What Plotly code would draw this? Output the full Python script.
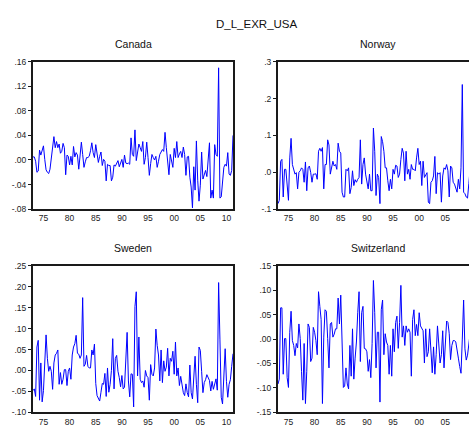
import plotly.graph_objects as go

# ---------------- data (quarterly, first observation 1973Q1) ----------------
START_YEAR = 1973

canada = [0.005, 0.005, -0.002, -0.02, -0.018, 0.016, 0.008, 0.015, 0.023, 0.001,
          -0.016, -0.02, -0.022, -0.015, 0.004, 0.025, 0.038, 0.02, 0.03, 0.02,
          0.026, 0.011, 0.014, 0.027, 0.02, -0.024, 0.008, 0.006, -0.008, 0.006,
          -0.008, 0.022, 0.005, 0.012, 0.008, -0.015, 0.014, 0.029, 0.009, -0.012,
          -0.003, 0.004, 0.004, 0.006, 0.015, 0.028, 0.012, 0.004, 0.025, 0.012,
          -0.004, 0.006, 0.013, -0.009, 0.001, -0.002, -0.034, -0.007, -0.009, -0.009,
          -0.034, -0.028, -0.008, -0.01, -0.006, -0.001, -0.011, -0.004, 0.001, -0.012,
          0.008, -0.005, -0.006, -0.005, -0.007, 0.036, 0.009, 0.006, 0.049, -0.001,
          0.012, 0.026, 0.02, 0.014, 0.03, -0.007, 0.004, 0.029, 0.004, -0.025,
          -0.006, 0.009, 0.004, 0.0, 0.006, -0.012, -0.002, 0.009, 0.013, 0.017,
          0.014, 0.045, 0.02, -0.002, -0.024, 0.009, -0.002, -0.012, 0.019, 0.004,
          0.03, 0.004, 0.01, 0.014, 0.004, 0.021, 0.009, -0.025, 0.005, 0.006,
          -0.028, -0.044, -0.078, -0.011, -0.049, 0.031, -0.033, -0.067, -0.041, 0.013,
          -0.031, -0.023, -0.017, -0.027, 0.004, 0.028, -0.062, -0.049, -0.062, 0.025,
          0.009, 0.006, 0.15, -0.062, -0.06, -0.033, -0.012, -0.007, -0.01, 0.012,
          -0.023, -0.025, -0.017, 0.04]

norway = [-0.085, -0.076, 0.03, 0.035, -0.067, 0.008, 0.008, -0.027, -0.076, 0.039,
          0.092, 0.021, 0.004, -0.005, -0.001, -0.045, 0.0, 0.004, 0.012, 0.008,
          -0.027, 0.028, -0.05, 0.012, 0.017, 0.0, -0.027, -0.005, -0.005, -0.004,
          -0.019, 0.057, 0.065, 0.057, 0.067, -0.045, 0.021, 0.021, 0.088, 0.074,
          -0.005, 0.012, 0.03, 0.017, 0.021, 0.008, 0.079, 0.057, 0.052, -0.054,
          -0.067, -0.067, 0.008, 0.004, 0.012, -0.058, -0.041, 0.004, -0.036, -0.02,
          -0.027, -0.019, -0.014, 0.088, -0.032, 0.021, 0.039, -0.005, -0.032, -0.045,
          -0.005, -0.05, -0.05, 0.12, 0.057, -0.063, -0.005, -0.014, -0.085, 0.097,
          0.083, 0.057, 0.012, 0.012, -0.023, -0.05, -0.019, -0.045, 0.008, -0.005,
          0.019, 0.017, -0.014, -0.005, 0.035, 0.065, 0.052, -0.023, 0.057, -0.005,
          0.008, -0.019, 0.021, 0.008, 0.008, 0.004, 0.039, 0.065, 0.021, 0.03,
          -0.036, 0.03, -0.014, -0.005, -0.001, -0.081, -0.085, -0.027, -0.023, -0.01,
          0.043, -0.058, -0.001, -0.005, -0.001, -0.081, -0.01, 0.012, 0.008, 0.021,
          0.004, -0.067, 0.017, 0.012, -0.027, -0.032, -0.045, -0.054, -0.019, -0.045,
          0.012, 0.238, -0.054, -0.058, -0.067, -0.07, -0.03, 0.01, 0.02, -0.01,
          0.03, -0.02, 0.01]

sweden = [-0.048, -0.044, -0.062, 0.056, 0.072, -0.071, 0.018, -0.075, -0.048, 0.008,
          0.085, 0.029, -0.002, 0.01, -0.002, -0.045, 0.018, 0.037, 0.041, 0.049,
          -0.033, -0.005, -0.033, -0.021, 0.002, 0.002, -0.036, -0.002, 0.006, -0.021,
          0.037, 0.056, 0.064, 0.084, 0.041, 0.039, 0.029, 0.037, 0.174, 0.01,
          0.015, 0.036, 0.01, 0.006, 0.006, 0.049, 0.037, 0.063, -0.031, -0.06,
          -0.068, -0.073, -0.052, -0.031, -0.033, -0.007, -0.062, 0.006, -0.052, -0.033,
          0.0, 0.076, -0.044, 0.029, 0.036, -0.002, -0.017, -0.039, -0.012, -0.044,
          -0.04, 0.022, 0.091, -0.025, -0.063, -0.008, -0.009, -0.087, 0.153, 0.188,
          -0.013, 0.08, -0.021, -0.029, -0.025, -0.04, 0.0, -0.013, -0.017, -0.071,
          0.014, -0.009, -0.013, 0.006, 0.099, 0.06, 0.037, -0.025, 0.049, -0.029,
          0.023, -0.002, 0.008, 0.053, -0.013, 0.029, 0.022, 0.046, -0.009, 0.068,
          -0.013, 0.006, -0.036, -0.014, -0.041, -0.053, -0.06, -0.032, -0.053, -0.063,
          0.013, -0.053, -0.068, -0.026, 0.034, -0.033, -0.077, 0.056, 0.048, -0.002,
          -0.053, -0.029, -0.022, -0.01, -0.018, -0.024, -0.049, -0.026, -0.045, -0.03,
          -0.02, -0.047, 0.21, 0.075, -0.064, -0.08, -0.022, 0.052, -0.026, -0.064,
          -0.033, -0.022, 0.01, 0.04]

switzerland = [-0.092, -0.082, 0.064, 0.064, -0.072, 0.001, 0.001, -0.079, -0.099, 0.014,
               0.057, -0.003, -0.013, -0.034, -0.009, -0.018, 0.031, 0.001, -0.066, -0.125,
               -0.009, -0.132, -0.066, 0.031, 0.024, -0.046, -0.039, 0.024, 0.014, -0.003,
               -0.032, 0.097, 0.067, 0.04, -0.132, 0.004, 0.06, 0.057, 0.001, -0.059,
               0.031, 0.034, 0.004, 0.01, 0.021, 0.021, 0.084, 0.031, 0.09, -0.039,
               -0.099, -0.096, -0.059, -0.092, -0.102, -0.013, -0.076, 0.021, -0.082, -0.039,
               -0.006, 0.054, 0.097, -0.046, 0.054, 0.067, -0.019, -0.02, -0.026, -0.066,
               -0.042, -0.079, -0.009, 0.12, 0.054, -0.059, 0.014, 0.014, -0.129, 0.06,
               0.08, -0.032, 0.011, -0.006, -0.013, -0.072, -0.013, -0.076, 0.021, -0.026,
               0.034, 0.047, -0.019, 0.034, 0.11, 0.004, 0.027, -0.013, 0.027, 0.014,
               0.021, 0.014, -0.076, 0.04, 0.06, 0.007, 0.03, 0.007, 0.054, 0.027,
               0.021, 0.017, -0.049, 0.021, -0.036, -0.026, 0.021, -0.039, -0.069, -0.016,
               -0.072, -0.032, 0.027, -0.01, -0.049, -0.032, 0.017, -0.059, -0.019, 0.037,
               0.034, 0.011, -0.042, -0.013, -0.003, -0.003, -0.006, -0.019, -0.039, -0.056,
               -0.07, 0.0, 0.08, -0.02, -0.043, -0.033, -0.01, 0.02, 0.035, -0.02,
               0.01, -0.03, 0.02, 0.0]

year_ticks = [1975, 1980, 1985, 1990, 1995, 2000, 2005, 2010]
year_labels = ["75", "80", "85", "90", "95", "00", "05", "10"]

canada_ticks = [-0.08, -0.04, 0.0, 0.04, 0.08, 0.12, 0.16]
canada_labels = ["-.08", "-.04", ".00", ".04", ".08", ".12", ".16"]
norway_ticks = [-0.1, 0.0, 0.1, 0.2, 0.3]
norway_labels = ["-.1", ".0", ".1", ".2", ".3"]
sweden_ticks = [-0.10, -0.05, 0.0, 0.05, 0.10, 0.15, 0.20, 0.25]
sweden_labels = ["-.10", "-.05", ".00", ".05", ".10", ".15", ".20", ".25"]
swiss_ticks = [-0.15, -0.10, -0.05, 0.0, 0.05, 0.10, 0.15]
swiss_labels = ["-.15", "-.10", "-.05", ".00", ".05", ".10", ".15"]

# ---------------- figure ----------------
W, H = 469, 432
FONT = "Liberation Sans, Arial, sans-serif"
FRAME = "#1a1a1a"


def px_x(x):
    return x / W


def px_y(y):
    return 1 - y / H


def qdates(vals):
    return [START_YEAR + i / 4 for i in range(len(vals))]


panels = [
    # name, values, y-range, ticks, labels, x px, y px (top,bottom), full frame
    ("Canada", canada, [-0.08, 0.16], canada_ticks, canada_labels, (33, 233), (58, 209), True),
    ("Norway", norway, [-0.1, 0.3], norway_ticks, norway_labels, (278, 469), (58, 209), False),
    ("Sweden", sweden, [-0.10, 0.25], sweden_ticks, sweden_labels, (33, 233), (267, 417), True),
    ("Switzerland", switzerland, [-0.15, 0.15], swiss_ticks, swiss_labels, (278, 469), (267, 417), False),
]

PX_PER_YEAR = 200 / 38.25

fig = go.Figure()
annotations = [dict(text="D_L_EXR_USA", x=px_x(257), y=px_y(19), xref="paper", yref="paper",
                    showarrow=False, font=dict(family=FONT, size=11.5, color="#111"),
                    xanchor="center", yanchor="middle")]

for k, (name, vals, yr, yt, yl, (x0, x1), (yt0, yb0), full) in enumerate(panels):
    idx = "" if k == 0 else str(k + 1)
    fig.add_trace(go.Scatter(x=qdates(vals), y=vals, mode="lines",
                             line=dict(color="#0000ff", width=1),
                             xaxis="x" + idx, yaxis="y" + idx, showlegend=False,
                             hoverinfo="skip"))
    xr = [START_YEAR, START_YEAR + (x1 - x0) / PX_PER_YEAR]
    fig.layout["xaxis" + idx] = dict(
        domain=[px_x(x0), min(1.0, px_x(x1))], range=xr, anchor="y" + idx,
        tickvals=year_ticks, ticktext=year_labels, ticks="",
        showline=True, linecolor=FRAME, linewidth=2, mirror=True,
        showgrid=False, zeroline=False,
        tickfont=dict(family=FONT, size=8.5, color="#222"), fixedrange=True)
    fig.layout["yaxis" + idx] = dict(
        domain=[px_y(yb0), px_y(yt0)], range=yr, anchor="x" + idx,
        tickvals=yt, ticktext=yl, ticks="outside", ticklen=3, tickcolor=FRAME, tickwidth=1,
        showline=True, linecolor=FRAME, linewidth=2, mirror=full,
        showgrid=False, zeroline=False,
        tickfont=dict(family=FONT, size=8.5, color="#222"), fixedrange=True)
    annotations.append(dict(text=name, x=px_x(x0 + 100), y=px_y(yt0 - 18),
                            xref="paper", yref="paper",
                            showarrow=False, font=dict(family=FONT, size=10.5, color="#111"),
                            xanchor="center", yanchor="middle"))

fig.update_layout(width=W, height=H, margin=dict(l=0, r=0, t=0, b=0),
                  paper_bgcolor="white", plot_bgcolor="white",
                  annotations=annotations, showlegend=False)

fig.write_html("out.html", config={"displayModeBar": False},
               post_script="document.body.style.margin='0';"
                           "document.body.style.overflow='hidden';")
